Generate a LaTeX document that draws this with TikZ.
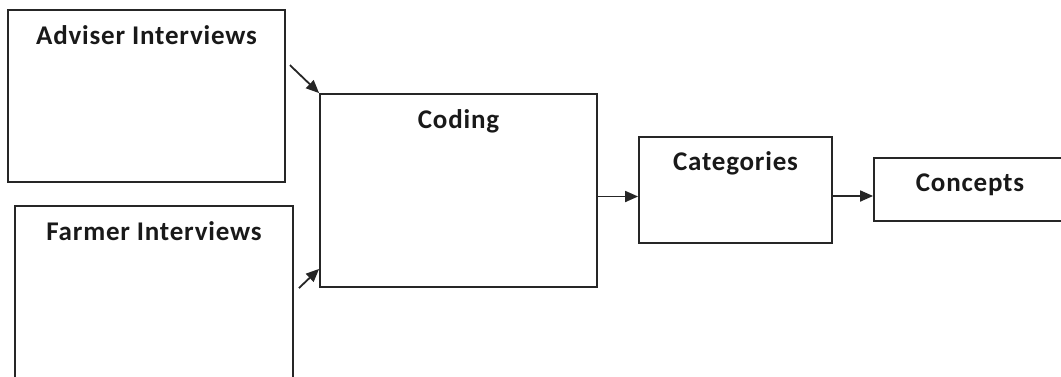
\documentclass[tikz,border=0pt]{standalone}
\usepackage{fontspec}
\setmainfont{Carlito}[LetterSpace=3]
\usetikzlibrary{arrows.meta}
\begin{document}
\begin{tikzpicture}[x=1pt,y=-1pt,
  box/.style={draw=black!85,line width=1.8pt,rectangle,inner sep=0pt},
  lbl/.style={anchor=base,inner sep=0pt,font=\fontsize{27}{32}\selectfont\bfseries,text=black!90},
  arr/.style={draw=black!85,line width=1.8pt,-{Triangle[length=13pt,width=11pt]}}]
\useasboundingbox (0,0) rectangle (1061,376);
\clip (0,0) rectangle (1061,376);
% boxes
\node[box,minimum width=277pt,minimum height=172pt] (adv) at (146.5,96) {};
\node[box,minimum width=278pt,minimum height=172pt] (far) at (154,292) {};
\node[box,minimum width=277pt,minimum height=193pt] (cod) at (458.5,190.5) {};
\node[box,minimum width=193pt,minimum height=106pt] (cat) at (735.5,190) {};
\node[box,minimum width=192pt,minimum height=63pt] (con) at (970,189.5) {};
% titles
\node[lbl] (advt) at ([yshift=-35pt]adv.north) {Adviser Interviews};
\node[lbl] (fart) at ([yshift=-35pt]far.north) {Farmer Interviews};
\node[lbl] (codt) at ([yshift=-35pt]cod.north) {Coding};
\node[lbl] (catt) at ([yshift=-34pt]cat.north) {Categories};
\node[lbl] (cont) at ([yshift=-34pt]con.north) {Concepts};
% connectors
\draw[arr] ([shift={(4pt,-56pt)}]adv.north east) -- (cod.north west);
\draw[arr] ([shift={(5pt,-83pt)}]far.north east) -- ([yshift=19pt]cod.south west);
\draw[arr] ([yshift=-6pt]cod.east) coordinate (p1) -- (p1 -| cat.west);
\draw[arr] ([yshift=-6pt]cat.east) coordinate (p2) -- (p2 -| con.west);
\end{tikzpicture}
\end{document}
